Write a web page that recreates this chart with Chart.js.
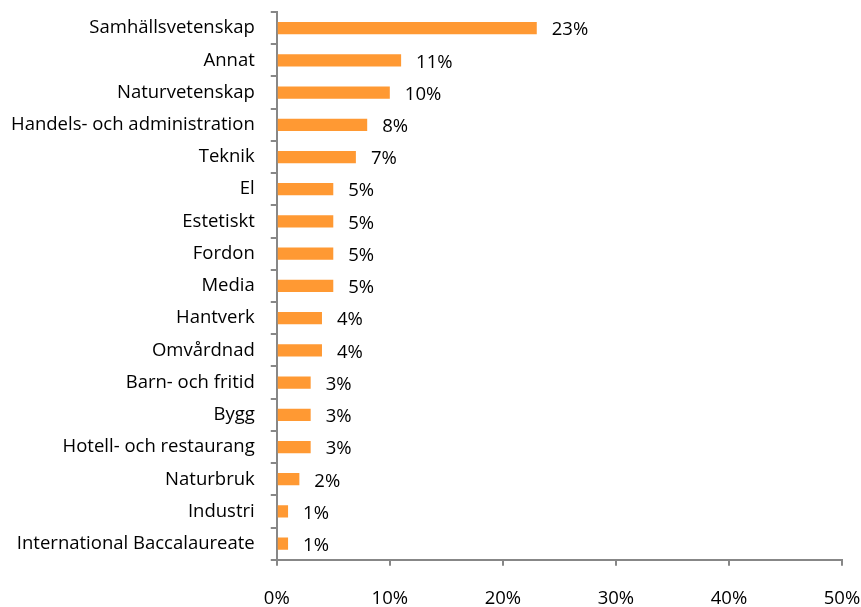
<!DOCTYPE html>
<html>
<head>
<meta charset="utf-8">
<script src="https://cdn.jsdelivr.net/npm/chart.js@4"></script>
<style>
  html, body { margin: 0; padding: 0; background: #fff; overflow: hidden; }
  #wrap { width: 861px; height: 607px; position: relative; }
</style>
</head>
<body>
<div id="wrap"><canvas id="programChart"></canvas></div>
<script>
// --- data ---
const categories = [
    'Samhällsvetenskap', 'Annat', 'Naturvetenskap', 'Handels- och administration',
    'Teknik', 'El', 'Estetiskt', 'Fordon', 'Media', 'Hantverk', 'Omvårdnad',
    'Barn- och fritid', 'Bygg', 'Hotell- och restaurang', 'Naturbruk', 'Industri',
    'International Baccalaureate'
];
const shares = [23, 11, 10, 8, 7, 5, 5, 5, 5, 4, 4, 3, 3, 3, 2, 1, 1];
const xTicks = [0, 10, 20, 30, 40, 50];

const fontFamily = '"Open Sans", "Noto Sans", sans-serif';
const fontSize = 18.5;
const axisColor = '#878787';

// simple value labels drawn right of each bar
const valueLabels = {
    id: 'valueLabels',
    afterDatasetsDraw(chart) {
        const { ctx } = chart;
        const meta = chart.getDatasetMeta(0);
        ctx.save();
        ctx.font = `${fontSize}px ${fontFamily}`;
        ctx.fillStyle = '#000';
        ctx.textAlign = 'left';
        ctx.textBaseline = 'middle';
        meta.data.forEach((bar, i) => {
            ctx.fillText(shares[i] + '%', bar.x + 15, bar.y + 2);
        });
        ctx.restore();
    }
};

const ctx = document.getElementById('programChart').getContext('2d');
new Chart(ctx, {
    type: 'bar',
    data: {
        labels: categories,
        datasets: [{
            data: shares,
            backgroundColor: '#FF9933',
            categoryPercentage: 1,
            barPercentage: 0.38
        }]
    },
    options: {
        indexAxis: 'y',
        responsive: true,
        maintainAspectRatio: false,
        animation: false,
        layout: { padding: { top: 12, right: 19, left: -5, bottom: -25 } },
        plugins: {
            legend: { display: false },
            tooltip: { enabled: false }
        },
        scales: {
            x: {
                min: 0,
                max: 50,
                afterBuildTicks: (axis) => { axis.ticks = xTicks.map(v => ({ value: v })); },
                // layout padding handles edge room, not the tick padding
                afterFit: (axis) => { axis.paddingLeft = 0; axis.paddingRight = 0; },
                ticks: {
                    callback: (v) => v + '%',
                    color: '#000',
                    padding: 22,
                    maxRotation: 0,
                    font: { family: fontFamily, size: fontSize }
                },
                grid: {
                    drawOnChartArea: false,
                    drawTicks: true,
                    tickLength: 6,
                    color: axisColor,
                    lineWidth: 2
                },
                border: { color: axisColor, width: 2 }
            },
            y: {
                afterFit: (axis) => { axis.paddingTop = 0; axis.paddingBottom = 0; },
                ticks: {
                    color: '#000',
                    padding: 16,
                    font: { family: fontFamily, size: fontSize }
                },
                grid: {
                    offset: true,
                    drawOnChartArea: false,
                    tickLength: 6,
                    color: axisColor,
                    lineWidth: 2
                },
                border: { color: axisColor, width: 2 }
            }
        }
    },
    plugins: [valueLabels]
});
</script>
</body>
</html>
